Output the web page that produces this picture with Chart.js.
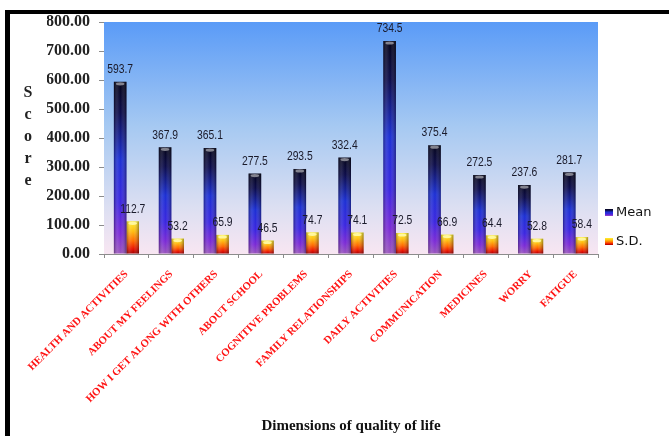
<!DOCTYPE html>
<html>
<head>
<meta charset="utf-8">
<title>Dimensions of quality of life</title>
<script src="https://cdn.jsdelivr.net/npm/chart.js@4/dist/chart.umd.min.js"></script>
<style>
  html, body { margin: 0; padding: 0; background: #fff; }
  #frame {
    position: absolute; left: 5px; top: 10px;
    width: 659px; height: 422px;
    border-left: 5px solid #000; border-top: 4px solid #000;
  }
  canvas { display: block; }
</style>
</head>
<body>
<div id="frame"><canvas id="qol" width="659" height="422"></canvas></div>
<script>
// Quality-of-life dimensions and their scores
const categories = [
  'HEALTH AND ACTIVITIES', 'ABOUT MY FEELINGS', 'HOW I GET ALONG WITH OTHERS',
  'ABOUT SCHOOL', 'COGNITIVE PROBLEMS', 'FAMILY RELATIONSHIPS', 'DAILY ACTIVITIES',
  'COMMUNICATION', 'MEDICINES', 'WORRY', 'FATIGUE'
];
const meanScores = [593.7, 367.9, 365.1, 277.5, 293.5, 332.4, 734.5, 375.4, 272.5, 237.6, 281.7];
const sdScores   = [112.7, 53.2, 65.9, 46.5, 74.7, 74.1, 72.5, 66.9, 64.4, 52.8, 58.4];
const yTickValues = [0, 100, 200, 300, 400, 500, 600, 700, 800];
const seriesNames = ['Mean', 'S.D.'];
const yAxisTitle = 'Score';
const xAxisTitle = 'Dimensions of quality of life';

// Colour ramps for the bars, top of bar (0) to baseline (1)
const meanStops = [[0, '#04041a'], [0.18, '#0c0c4a'], [0.45, '#1c30d4'], [0.7, '#3a26e0'], [0.88, '#7a2ad6'], [1, '#9a56bc']];
const sdStops   = [[0, '#fff030'], [0.3, '#ffbe10'], [0.6, '#ff6a00'], [0.85, '#e81000'], [1, '#9a0000']];

function barFill(stops) {
  return (c) => {
    const chart = c.chart;
    const ys = chart.scales && chart.scales.y;
    if (c.type !== 'data' || !ys || !chart.chartArea) return stops[2][1];
    const top = ys.getPixelForValue(c.raw);
    const base = ys.getPixelForValue(0);
    if (!isFinite(top) || !isFinite(base) || base - top < 1) return stops[2][1];
    const g = chart.ctx.createLinearGradient(0, top, 0, base);
    stops.forEach(([o, col]) => g.addColorStop(o, col));
    return g;
  };
}

// Sky-like gradient behind the plot area
const plotBackground = {
  id: 'plotBackground',
  beforeDatasetsDraw(chart) {
    const { ctx, chartArea: a } = chart;
    const g = ctx.createLinearGradient(0, a.top, 0, a.bottom);
    g.addColorStop(0, '#5a9bf7');
    g.addColorStop(0.45, '#a6c9f2');
    g.addColorStop(0.8, '#dcdff2');
    g.addColorStop(1, '#f8e6f2');
    ctx.save();
    ctx.fillStyle = g;
    ctx.fillRect(a.left, a.top, a.right - a.left, a.bottom - a.top);
    ctx.restore();
  }
};

// Cylinder shading and value labels on every bar
const barDecor = {
  id: 'barDecor',
  afterDatasetsDraw(chart) {
    const { ctx } = chart;
    ctx.save();
    chart.data.datasets.forEach((ds, di) => {
      const meta = chart.getDatasetMeta(di);
      meta.data.forEach((bar) => {
        const w = bar.width, l = bar.x - w / 2, top = bar.y, h = bar.base - bar.y;
        const g = ctx.createLinearGradient(l, 0, l + w, 0);
        g.addColorStop(0, 'rgba(0,0,0,0.35)');
        g.addColorStop(0.3, 'rgba(255,255,255,0.10)');
        g.addColorStop(0.55, 'rgba(255,255,255,0)');
        g.addColorStop(1, 'rgba(0,0,0,0.38)');
        ctx.fillStyle = g;
        ctx.fillRect(l, top, w, h);
        // rounded cap at the top of the bar
        ctx.beginPath();
        ctx.ellipse(bar.x, top + 2, Math.max(w / 2 - 2, 1), 1.6, 0, 0, Math.PI * 2);
        ctx.fillStyle = di === 0 ? 'rgba(150,150,160,0.85)' : 'rgba(255,250,170,0.9)';
        ctx.fill();
      });
    });
    ctx.font = "12px 'Liberation Sans', Arial, sans-serif";
    ctx.fillStyle = '#1a1a2a';
    ctx.textAlign = 'center';
    ctx.textBaseline = 'bottom';
    chart.data.datasets.forEach((ds, di) => {
      const meta = chart.getDatasetMeta(di);
      meta.data.forEach((bar, i) => {
        ctx.save();
        ctx.translate(bar.x, bar.y - 6);
        ctx.scale(0.86, 1);
        ctx.fillText(Number(ds.data[i]).toFixed(1), 0, 0);
        ctx.restore();
      });
    });
    ctx.restore();
  }
};

// Stacked-letter vertical axis title
const stackedYTitle = {
  id: 'stackedYTitle',
  afterDraw(chart) {
    const { ctx, chartArea: a } = chart;
    const letters = yAxisTitle.split('');
    const step = 22;
    const mid = (a.top + a.bottom) / 2 - 1;
    ctx.save();
    ctx.font = "bold 16px 'Liberation Serif', 'Times New Roman', serif";
    ctx.fillStyle = '#222';
    ctx.textAlign = 'center';
    ctx.textBaseline = 'middle';
    letters.forEach((ch, i) => {
      ctx.fillText(ch, 18, mid + (i - (letters.length - 1) / 2) * step);
    });
    ctx.restore();
  }
};

// Legend with gradient swatches, to the right of the plot
const sideLegend = {
  id: 'sideLegend',
  afterDraw(chart) {
    const { ctx, chartArea: a } = chart;
    const x0 = a.right + 7;
    const y0 = chart.height / 2 - 12.5;
    ctx.save();
    ctx.font = "13px 'DejaVu Sans', sans-serif";
    ctx.textAlign = 'left';
    ctx.textBaseline = 'middle';
    [meanStops, sdStops].forEach((stops, i) => {
      const cy = y0 + i * 29;
      const g = ctx.createLinearGradient(0, cy - 3.5, 0, cy + 3.5);
      stops.forEach(([o, col]) => g.addColorStop(o, col));
      ctx.fillStyle = g;
      ctx.fillRect(x0, cy - 3.5, 8, 7);
      ctx.fillStyle = '#111';
      ctx.fillText(chart.data.datasets[i].label, x0 + 11, cy + 0.5);
    });
    ctx.restore();
  }
};

new Chart(document.getElementById('qol'), {
  type: 'bar',
  data: {
    labels: categories,
    datasets: [
      { label: seriesNames[0], data: meanScores, backgroundColor: barFill(meanStops),
        borderWidth: 0, categoryPercentage: 0.56, barPercentage: 1 },
      { label: seriesNames[1], data: sdScores, backgroundColor: barFill(sdStops),
        borderWidth: 0, categoryPercentage: 0.56, barPercentage: 1 }
    ]
  },
  options: {
    responsive: false,
    animation: false,
    devicePixelRatio: 1,
    layout: { padding: { left: 37, right: 71, top: 0, bottom: 0 } },
    plugins: {
      tooltip: { enabled: false },
      legend: { display: false }
    },
    scales: {
      x: {
        grid: { display: true, drawOnChartArea: false, tickLength: 4, color: '#8c8c8c', offset: true },
        border: { color: '#8c8c8c' },
        ticks: {
          color: '#ff1414',
          font: { family: "'Liberation Serif', 'Times New Roman', serif", weight: 'bold', size: 10.7 },
          minRotation: 45, maxRotation: 45, autoSkip: false, padding: 10
        },
        title: {
          display: true, text: xAxisTitle, color: '#111',
          font: { family: "'Liberation Serif', 'Times New Roman', serif", weight: 'bold', size: 15 },
          padding: { top: 0, bottom: 1 }
        },
        afterFit(s) { s.height = 182; }
      },
      y: {
        min: 0, max: 800,
        afterBuildTicks(s) { s.ticks = yTickValues.map(v => ({ value: v })); },
        grid: { display: true, drawOnChartArea: false, tickLength: 5, color: '#8c8c8c' },
        border: { color: '#8c8c8c' },
        ticks: {
          color: '#222', padding: 9,
          font: { family: "'Liberation Serif', 'Times New Roman', serif", weight: 'bold', size: 16 },
          callback: (v) => Number(v).toFixed(2)
        },
        afterFit(s) { s.width = 57; s.paddingTop = 8; }
      }
    }
  },
  plugins: [plotBackground, barDecor, stackedYTitle, sideLegend]
});
</script>
</body>
</html>
